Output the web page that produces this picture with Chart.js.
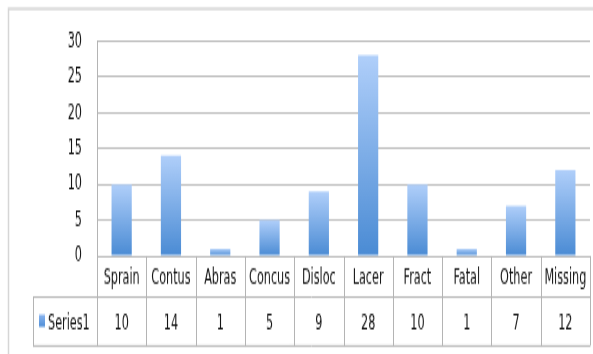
<!DOCTYPE html>
<html><head><meta charset="utf-8">
<script src="https://cdn.jsdelivr.net/npm/chart.js@4/dist/chart.umd.min.js"></script>
<style>
html,body{margin:0;padding:0;background:#fff;overflow:hidden;width:593px;height:354px;}
#wrap{position:absolute;left:0;top:0;width:593px;height:202px;transform:scaleY(1.7525);transform-origin:0 0;}
</style></head><body>
<div id="wrap"><canvas id="c"></canvas></div>
<script>
const categories = ['Sprain', 'Contus', 'Abras', 'Concus', 'Disloc', 'Lacer', 'Fract', 'Fatal', 'Other', 'Missing'];
const series1 = [10, 14, 1, 5, 9, 28, 10, 1, 7, 12];
const seriesName = 'Series1';
const yMin = 0, yMax = 30, yStep = 5;

const FONT = '"DejaVu Sans Condensed", "Liberation Sans Narrow", "Liberation Sans", sans-serif';
const FSIZE = 12.5;
const LINE = '#b4b4b4';

// per-bar vertical gradient, light at the top, deeper blue at the base
function barFill(ctx) {
  const chart = ctx.chart;
  const y = chart.scales.y;
  if (!y || ctx.dataIndex === undefined) return '#6fa3e6';
  const top = y.getPixelForValue(series1[ctx.dataIndex]);
  const base = y.getPixelForValue(0);
  if (!isFinite(top) || !isFinite(base) || top === base) return '#6fa3e6';
  const g = chart.ctx.createLinearGradient(0, top, 0, base);
  g.addColorStop(0, '#b0cffa');
  g.addColorStop(1, '#4a8bd4');
  return g;
}

// outer chart frame
const framePlugin = {
  id: 'frame',
  beforeDraw(chart) {
    const c = chart.ctx;
    c.save();
    c.strokeStyle = '#d6d6d6';
    c.lineWidth = 1.5;
    c.strokeRect(8.5, 5, 700, 400);
    c.restore();
  }
};

// data table under the plot: category row + value row with legend key
const tablePlugin = {
  id: 'dataTable',
  afterDraw(chart) {
    const c = chart.ctx;
    const area = chart.chartArea;
    const x = chart.scales.x;
    const n = categories.length;
    const w = (area.right - area.left) / n;
    const rowTop = area.bottom;
    const rowMid = 169.5;
    const rowBot = 197.4;
    const keyLeft = 33;
    c.save();
    c.strokeStyle = LINE;
    c.lineWidth = 1;
    c.beginPath();
    for (let i = 0; i <= n; i++) {
      const px = Math.round(area.left + i * w) + 0.5;
      c.moveTo(px, rowTop);
      c.lineTo(px, rowBot);
    }
    c.moveTo(keyLeft + 0.5, rowMid);
    c.lineTo(keyLeft + 0.5, rowBot);
    c.moveTo(keyLeft, rowMid);
    c.lineTo(area.right, rowMid);
    c.moveTo(keyLeft, rowBot);
    c.lineTo(area.right, rowBot);
    c.stroke();

    c.fillStyle = '#151515';
    c.font = FSIZE + 'px ' + FONT;
    c.textAlign = 'center';
    c.textBaseline = 'middle';
    categories.forEach((lab, i) => {
      const cx = x.getPixelForValue(i);
      c.fillText(lab, cx, (rowTop + rowMid) / 2 + 1);
      c.fillText(String(series1[i]), cx, (rowMid + rowBot) / 2 + 1);
    });
    const kg = c.createLinearGradient(0, 179, 0, 187);
    kg.addColorStop(0, '#8fb8f2');
    kg.addColorStop(1, '#4a8bd4');
    c.fillStyle = kg;
    c.fillRect(39, 179.5, 6, 7);
    c.fillStyle = '#151515';
    c.textAlign = 'left';
    c.fillText(seriesName, 48, (rowMid + rowBot) / 2 + 1);
    c.restore();
  }
};

new Chart(document.getElementById('c'), {
  type: 'bar',
  data: {
    labels: categories,
    datasets: [{
      label: seriesName,
      data: series1,
      backgroundColor: barFill,
      borderWidth: 0,
      categoryPercentage: 1,
      barPercentage: 0.41
    }]
  },
  options: {
    responsive: true,
    maintainAspectRatio: false,
    animation: false,
    devicePixelRatio: 1,
    layout: { padding: { top: 23.4, right: 3, bottom: 56, left: 0 } },
    plugins: { legend: { display: false }, tooltip: { enabled: false } },
    scales: {
      x: { display: false, offset: true },
      y: {
        min: yMin, max: yMax,
        ticks: { stepSize: yStep, color: '#151515', padding: 15, font: { family: FONT, size: FSIZE } },
        grid: { color: '#bcbcbc', lineWidth: 1, drawTicks: false },
        border: { display: true, color: LINE, width: 1 },
        afterFit(s) { s.width = 97; }
      }
    }
  },
  plugins: [framePlugin, tablePlugin]
});
</script>
</body></html>
